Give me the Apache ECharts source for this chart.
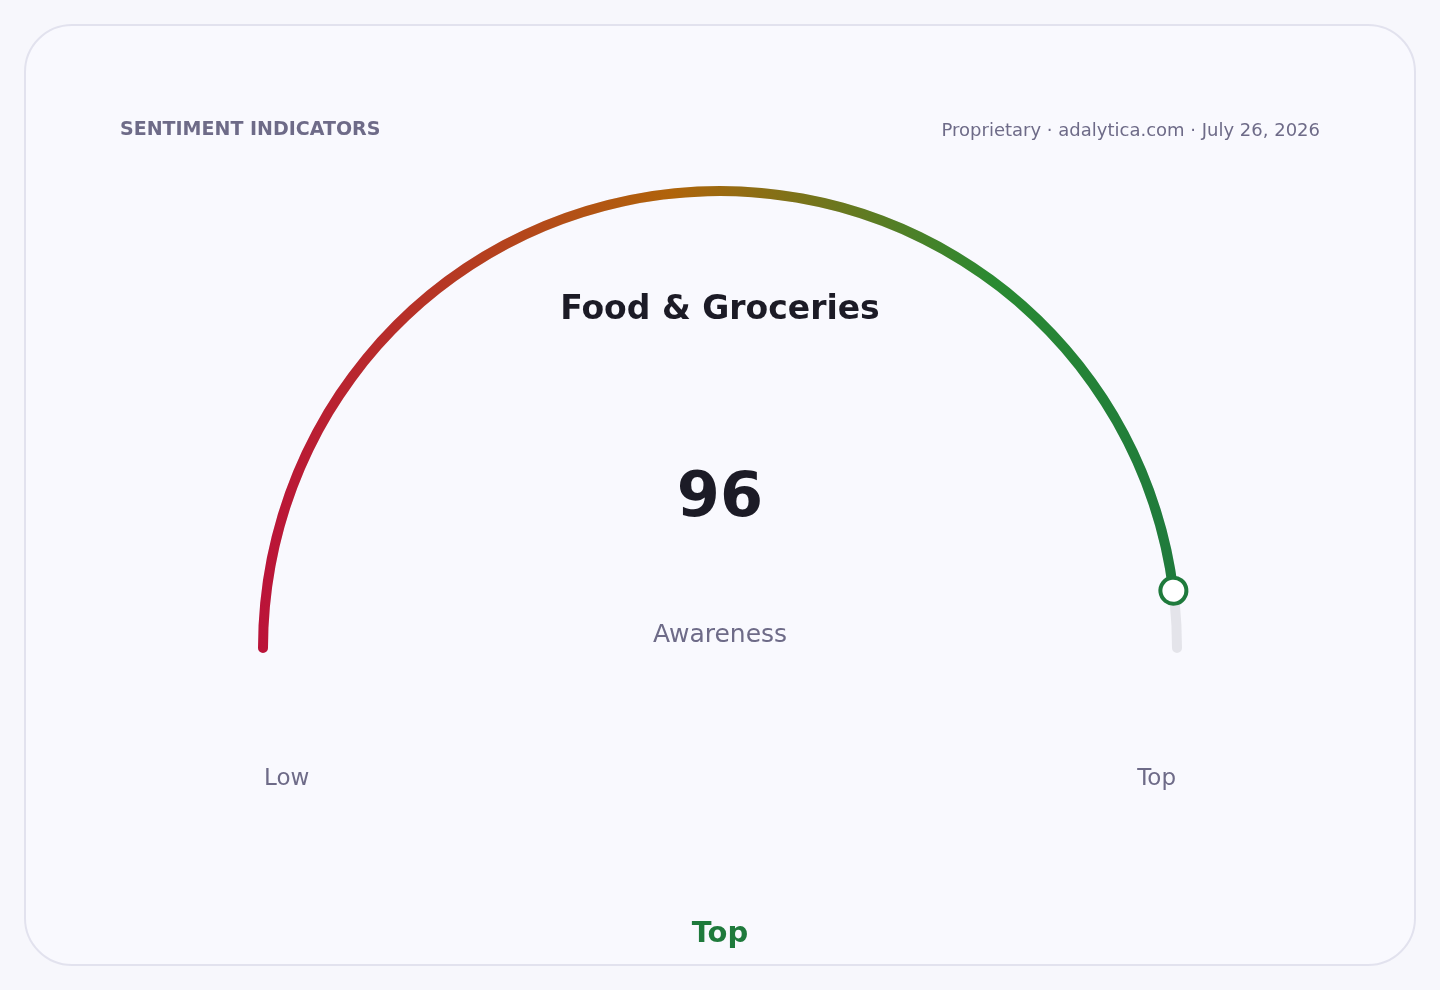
<!DOCTYPE html>
<html>
<head>
<meta charset="utf-8">
<title>Sentiment Indicators</title>
<script src="https://cdn.jsdelivr.net/npm/echarts@6/dist/echarts.min.js"></script>
<style>
    html, body {
        margin: 0;
        padding: 0;
        width: 1440px;
        height: 990px;
        background: #f7f7fc;
        overflow: hidden;
    }
    .card {
        position: absolute;
        left: 24px;
        top: 24px;
        width: 1388px;
        height: 938px;
        border: 2px solid #e2e2ee;
        border-radius: 48px;
        background: #f9f9fe;
    }
    #gauge {
        position: absolute;
        left: 0;
        top: 0;
        width: 1440px;
        height: 990px;
    }
</style>
</head>
<body>
<div class="card"></div>
<div id="gauge"></div>
<script>
    // Données de la jauge
    const categoryName = 'Food & Groceries';
    const metricName = 'Awareness';
    const scoreValue = [96];
    const scaleRange = [0, 100];
    const scaleLabels = ['Low', 'Top'];
    const ratingLabel = 'Top';

    // Couleurs
    const colors = {
        low: '#bb1339',
        mid: '#b0640a',
        high: '#2a8a32',
        end: '#1f7a3c',
        track: '#e4e4ea',
        ink: '#1c1b26',
        muted: '#6e6b88'
    };

    const font = 'DejaVu Sans';
    const cx = 720;
    const cy = 648;
    const radius = 462;
    const lineWidth = 10;
    const markerSize = 26;
    const trackRadius = radius - lineWidth / 2;

    const chart = echarts.init(document.getElementById('gauge'));

    const baseGauge = {
        type: 'gauge',
        center: [cx, cy],
        radius: radius,
        startAngle: 180,
        endAngle: 0,
        min: scaleRange[0],
        max: scaleRange[1],
        splitLine: { show: false },
        axisTick: { show: false },
        axisLabel: { show: false },
        anchor: { show: false }
    };

    const options = {
        backgroundColor: 'transparent',
        textStyle: { fontFamily: font },
        graphic: [
            {
                type: 'text',
                x: 120,
                y: 130,
                style: {
                    text: 'SENTIMENT INDICATORS',
                    font: 'bold 19px "DejaVu Sans"',
                    fill: colors.muted,
                    letterSpacing: 0.7,
                    verticalAlign: 'middle'
                }
            },
            {
                type: 'text',
                x: 1320,
                y: 131,
                style: {
                    text: 'Proprietary · adalytica.com · July 26, 2026',
                    font: '18px "DejaVu Sans"',
                    fill: colors.muted,
                    align: 'right',
                    verticalAlign: 'middle'
                }
            },
            {
                type: 'text',
                x: cx,
                y: 310,
                style: {
                    text: categoryName,
                    font: 'bold 33px "DejaVu Sans"',
                    fill: colors.ink,
                    align: 'center',
                    verticalAlign: 'middle'
                }
            },
            {
                type: 'text',
                x: 264,
                y: 779,
                style: {
                    text: scaleLabels[0],
                    font: '23px "DejaVu Sans"',
                    fill: colors.muted,
                    align: 'left',
                    verticalAlign: 'middle'
                }
            },
            {
                type: 'text',
                x: 1176,
                y: 779,
                style: {
                    text: scaleLabels[1],
                    font: '23px "DejaVu Sans"',
                    fill: colors.muted,
                    align: 'right',
                    verticalAlign: 'middle'
                }
            },
            {
                type: 'text',
                x: cx,
                y: 934,
                style: {
                    text: ratingLabel,
                    font: 'bold 29px "DejaVu Sans"',
                    fill: colors.end,
                    align: 'center',
                    verticalAlign: 'middle'
                }
            }
        ],
        series: [
            Object.assign({}, baseGauge, {
                z: 2,
                axisLine: {
                    roundCap: true,
                    lineStyle: {
                        width: lineWidth,
                        color: [[1, colors.track]]
                    }
                },
                progress: {
                    show: true,
                    width: lineWidth,
                    roundCap: true,
                    itemStyle: {
                        color: new echarts.graphic.LinearGradient(0, 0, 1, 0, [
                            { offset: 0, color: colors.low },
                            { offset: 0.45, color: colors.mid },
                            { offset: 0.8, color: colors.high },
                            { offset: 1, color: colors.end }
                        ])
                    }
                },
                pointer: { show: false },
                title: {
                    show: true,
                    offsetCenter: [0, -13],
                    color: colors.muted,
                    fontSize: 25,
                    fontFamily: font
                },
                detail: {
                    show: true,
                    offsetCenter: [0, -148],
                    color: colors.ink,
                    fontSize: 62,
                    fontWeight: 'bold',
                    fontFamily: font,
                    formatter: '{value}'
                },
                data: [{ value: scoreValue[0], name: metricName }]
            }),
            // Marqueur de la valeur, dessiné au-dessus de la progression
            Object.assign({}, baseGauge, {
                z: 5,
                axisLine: { show: false },
                progress: { show: false },
                pointer: {
                    show: true,
                    icon: 'circle',
                    width: markerSize,
                    length: markerSize,
                    offsetCenter: [0, -(trackRadius - markerSize / 2)],
                    keepAspect: true,
                    itemStyle: {
                        color: '#ffffff',
                        borderColor: colors.end,
                        borderWidth: 4
                    }
                },
                title: { show: false },
                detail: { show: false },
                data: [{ value: scoreValue[0] }]
            })
        ]
    };
    chart.setOption(options);
</script>
</body>
</html>
